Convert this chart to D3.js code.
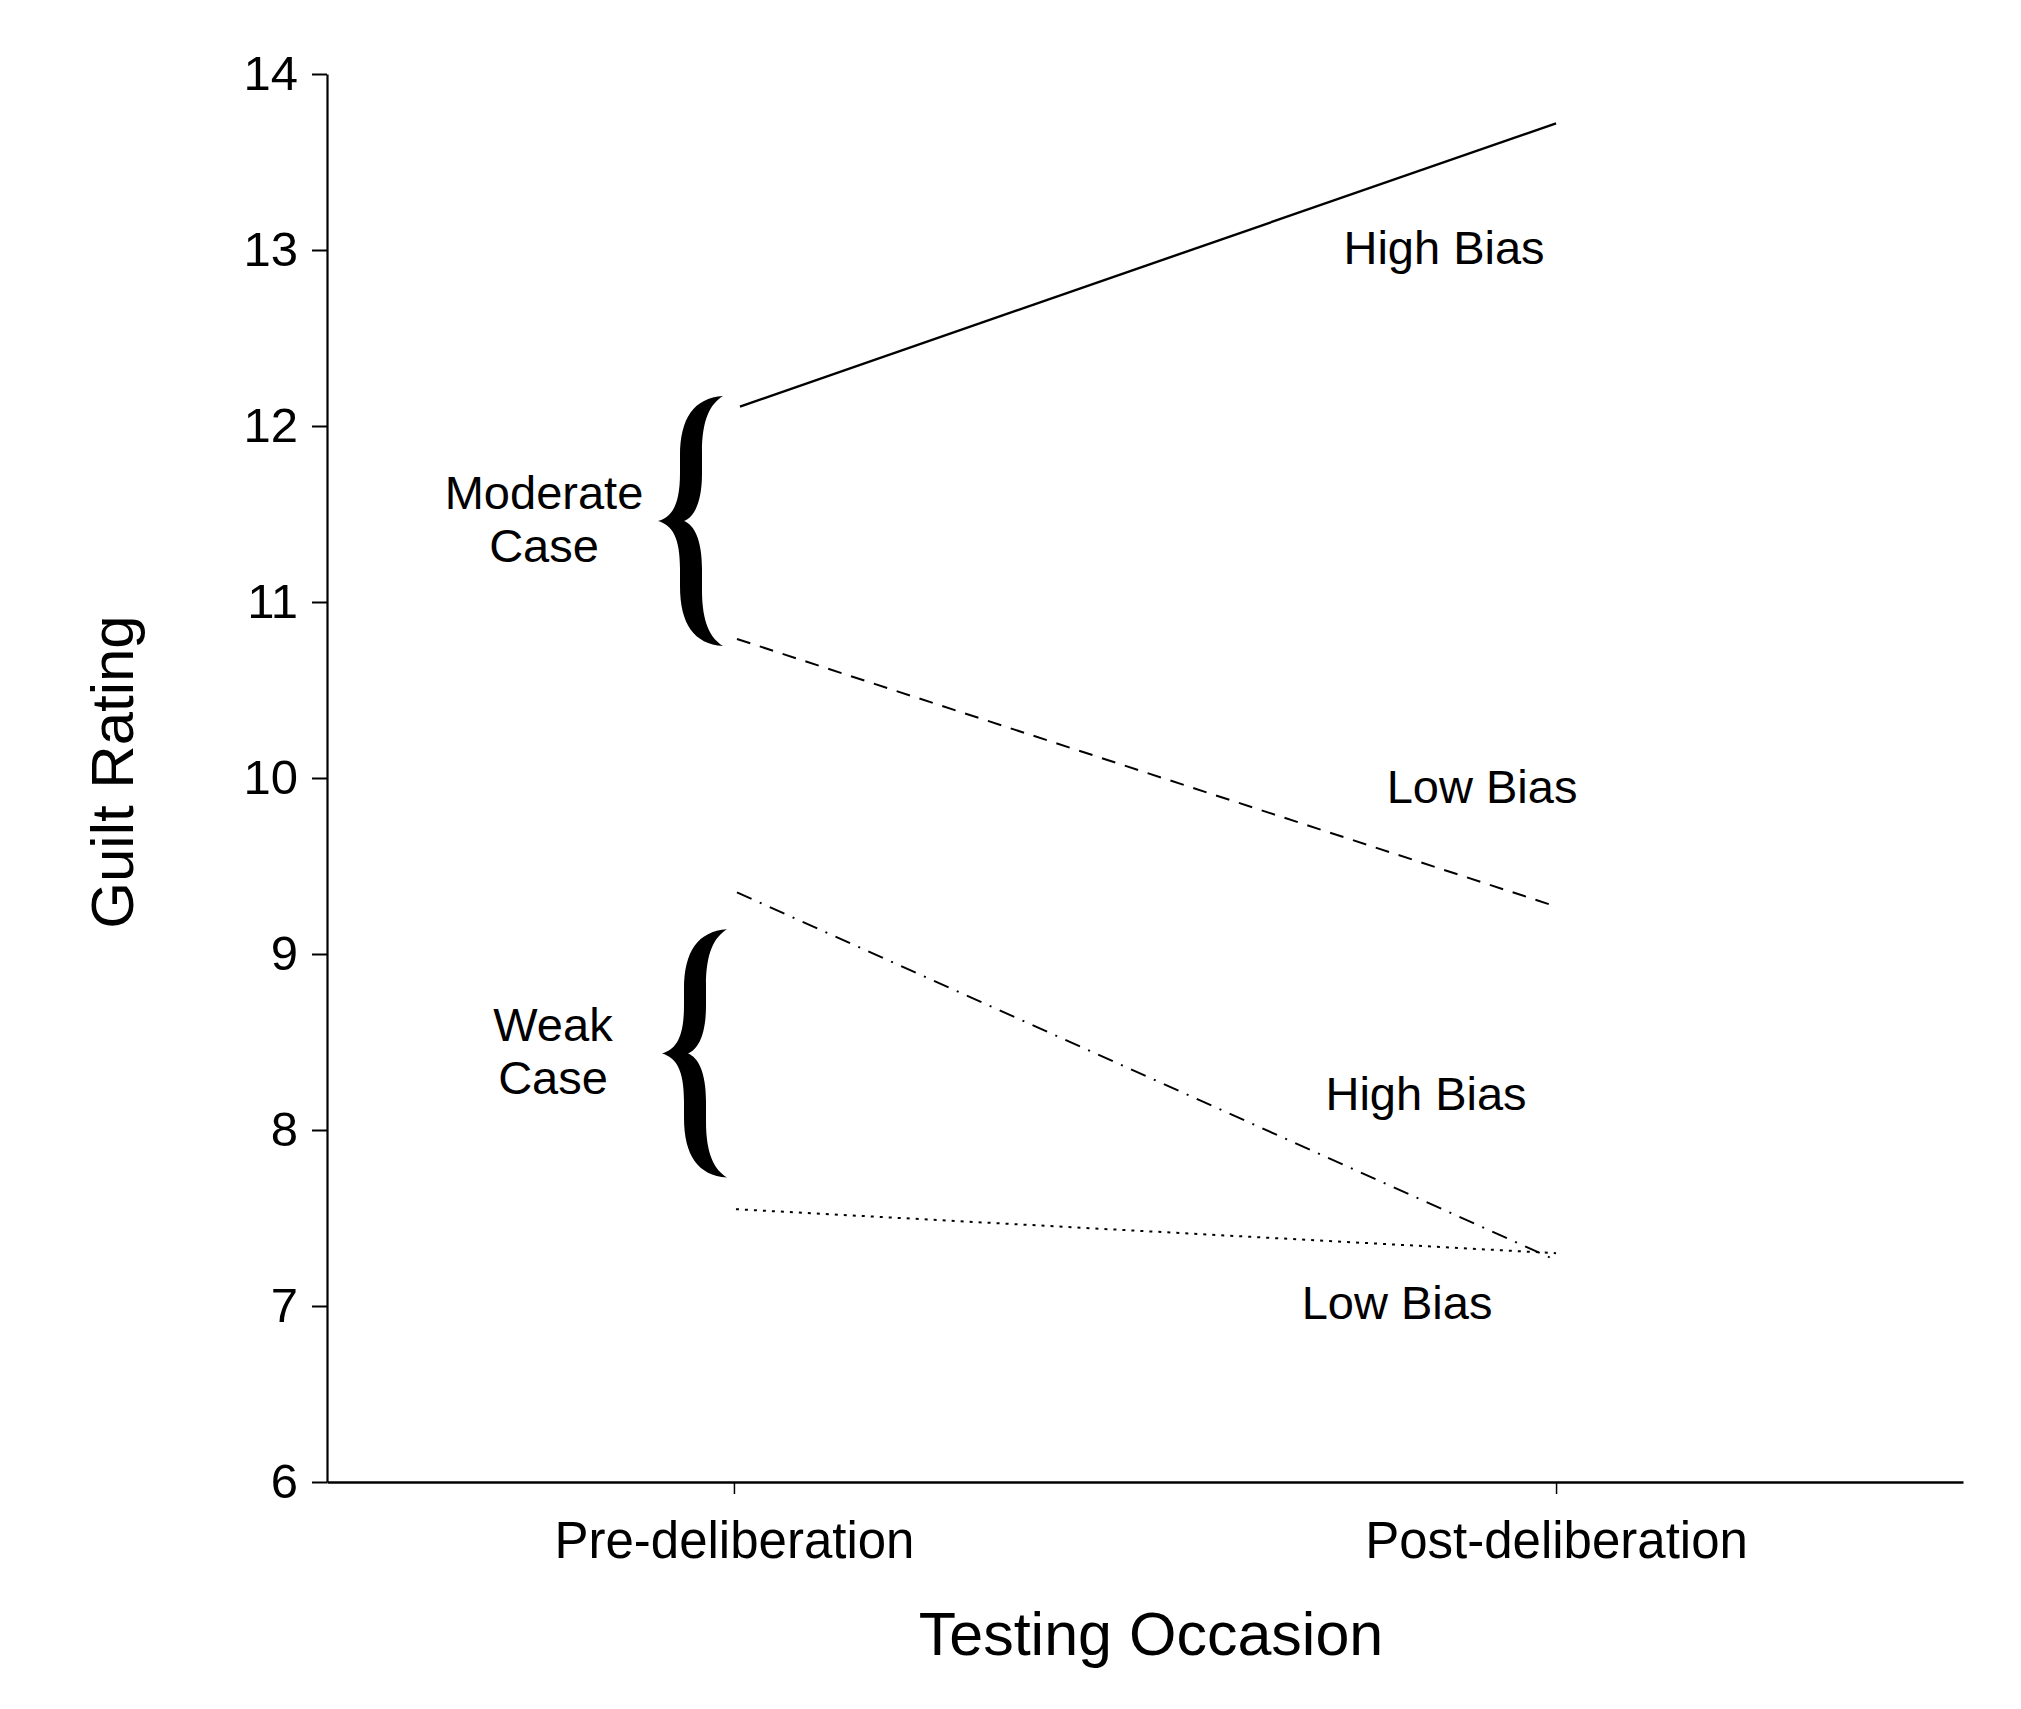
<!DOCTYPE html>
<html>
<head>
<meta charset="utf-8">
<script src="https://cdn.jsdelivr.net/npm/d3@7"></script>
<style>
  body { margin: 0; background: #fff; }
  svg text { font-family: "Liberation Sans", Arial, Helvetica, sans-serif; fill: #000; }
</style>
</head>
<body>
<script>
// values
var occasions = ["Pre-deliberation", "Post-deliberation"];
var yTicks = [6, 7, 8, 9, 10, 11, 12, 13, 14];

var moderateHigh = [12.11, 13.72];
var moderateLow = [10.79, 9.27];
var weakHigh = [9.35, 7.26];
var weakLow = [7.55, 7.30];

var seriesNames = ["High Bias", "Low Bias", "High Bias", "Low Bias"];
var caseNames = [["Moderate", "Case"], ["Weak", "Case"]];
// brace spans in guilt-rating units
var caseSpans = [[12.17, 10.75], [9.14, 7.73]];

var width = 2021, height = 1709;
var margin = { top: 74, right: 58, bottom: 227, left: 327 };

var svg = d3.select("body").append("svg")
    .attr("width", width)
    .attr("height", height);

var xScale = d3.scalePoint()
    .domain(occasions)
    .range([margin.left, width - margin.right])
    .padding(0.495);

var yScale = d3.scaleLinear()
    .domain([6, 14])
    .range([height - margin.bottom, margin.top]);

// axes
var yAxis = g => g
    .attr("transform", "translate(" + margin.left + ",0)")
    .call(d3.axisLeft(yScale).tickValues(yTicks).tickSize(15).tickSizeOuter(0).tickPadding(14))
    .call(g => g.selectAll("text").attr("font-size", 49))
    .call(g => g.select(".domain").attr("stroke-width", 2.2))
    .call(g => g.selectAll(".tick line").attr("stroke-width", 2));

var xAxis = g => g
    .attr("transform", "translate(0," + (height - margin.bottom) + ")")
    .call(d3.axisBottom(xScale).tickSize(12).tickSizeOuter(0).tickPadding(28))
    .call(g => g.selectAll("text").attr("font-size", 51))
    .call(g => g.select(".domain").attr("stroke-width", 2.6))
    .call(g => g.selectAll(".tick line").attr("stroke-width", 1.5));

svg.append("g").attr("font-family", null).call(yAxis);
svg.append("g").attr("font-family", null).call(xAxis);
svg.selectAll(".tick text").attr("font-family", null);

// axis titles
svg.append("text")
    .attr("x", 1151)
    .attr("y", 1655)
    .attr("text-anchor", "middle")
    .attr("font-size", 61)
    .text("Testing Occasion");

svg.append("text")
    .attr("transform", "translate(133," + 772 + ") rotate(-90)")
    .attr("text-anchor", "middle")
    .attr("font-size", 60)
    .text("Guilt Rating");

// lines
var series = [
    { values: moderateHigh, dash: null, start: 6 },
    { values: moderateLow, dash: "14,10", start: 3 },
    { values: weakHigh, dash: "16,9,2,9", start: 3 },
    { values: weakLow, dash: "3,6", start: 2 }
];

var line = d3.line()
    .x(d => d[0])
    .y(d => yScale(d[1]));

svg.selectAll("path.series")
    .data(series)
    .enter().append("path")
    .attr("class", "series")
    .attr("fill", "none")
    .attr("stroke", "#000")
    .attr("stroke-width", d => d.dash ? 2 : 2.4)
    .attr("stroke-dasharray", d => d.dash)
    .attr("d", d => line(d.values.map((v, i) => [xScale(occasions[i]) + (i === 0 ? d.start : 0), v])));

// series labels near the post-deliberation end
var labelOffsets = [[-112, 264], [-74, 803], [-130, 1110], [-159, 1319]];
svg.selectAll("text.series-label")
    .data(seriesNames)
    .enter().append("text")
    .attr("class", "series-label")
    .attr("text-anchor", "middle")
    .attr("font-size", 47)
    .attr("x", (d, i) => xScale(occasions[1]) + labelOffsets[i][0])
    .attr("y", (d, i) => labelOffsets[i][1])
    .text(d => d);

// curly braces
function bracePath(xt, y0, y1) {
    var ym = (y0 + y1) / 2, xe = xt + 65;
    var a = xt + 22, b = xt + 44;
    return "M" + xe + "," + y0 +
        "C" + (xt + 36) + "," + (y0 + 2) + " " + a + "," + (y0 + 22) + " " + a + "," + (y0 + 60) +
        "L" + a + "," + (ym - 48) +
        "C" + a + "," + (ym - 16) + " " + (xt + 14) + "," + (ym - 4) + " " + xt + "," + ym +
        "C" + (xt + 14) + "," + (ym + 4) + " " + a + "," + (ym + 16) + " " + a + "," + (ym + 48) +
        "L" + a + "," + (y1 - 60) +
        "C" + a + "," + (y1 - 22) + " " + (xt + 36) + "," + (y1 - 2) + " " + xe + "," + y1 +
        "C" + (xt + 52) + "," + (y1 - 8) + " " + b + "," + (y1 - 24) + " " + b + "," + (y1 - 56) +
        "L" + b + "," + (ym + 48) +
        "C" + b + "," + (ym + 18) + " " + (xt + 36) + "," + (ym + 4) + " " + (xt + 26) + "," + ym +
        "C" + (xt + 36) + "," + (ym - 4) + " " + b + "," + (ym - 18) + " " + b + "," + (ym - 48) +
        "L" + b + "," + (y0 + 56) +
        "C" + b + "," + (y0 + 24) + " " + (xt + 52) + "," + (y0 + 8) + " " + xe + "," + y0 + "Z";
}

var braceX = [658, 662];
svg.selectAll("path.brace")
    .data(caseSpans)
    .enter().append("path")
    .attr("class", "brace")
    .attr("fill", "#000")
    .attr("d", (d, i) => bracePath(braceX[i], yScale(d[0]), yScale(d[1])));

// case labels
var caseLabelX = [544, 553];
caseNames.forEach(function(lines, i) {
    var mid = (yScale(caseSpans[i][0]) + yScale(caseSpans[i][1])) / 2;
    svg.append("text")
        .attr("text-anchor", "middle")
        .attr("font-size", 47)
        .selectAll("tspan")
        .data(lines)
        .enter().append("tspan")
        .attr("x", caseLabelX[i])
        .attr("y", (d, j) => mid - 12 + j * 53)
        .text(d => d);
});
</script>
</body>
</html>
